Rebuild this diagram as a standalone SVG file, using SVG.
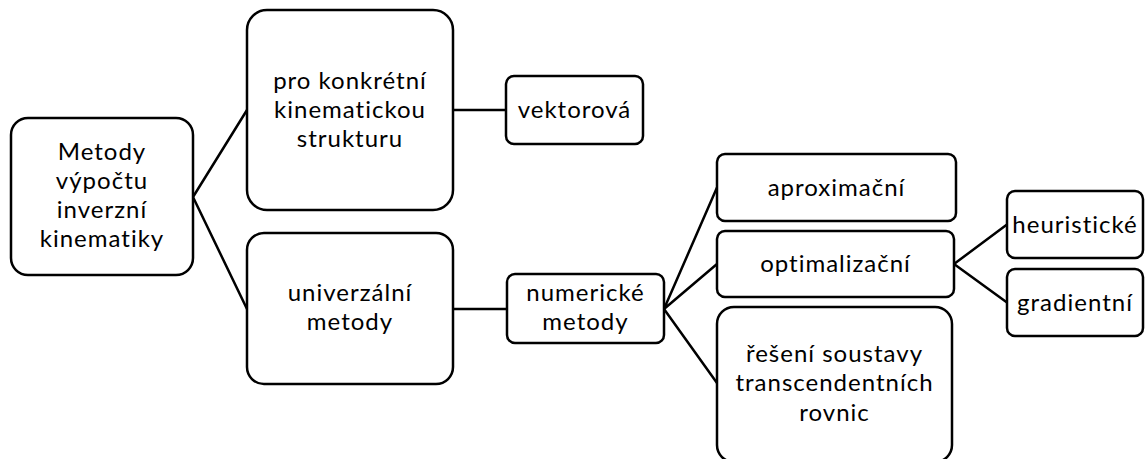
<svg xmlns="http://www.w3.org/2000/svg" width="1145" height="459" viewBox="0 0 1145 459">
<style>
.box{fill:#fff;stroke:#000;stroke-width:2.5}
.con{fill:none;stroke:#000;stroke-width:2.5}
text{font-family:Lato,"Open Sans",sans-serif;font-size:24px;letter-spacing:1px;fill:#000;text-anchor:middle}
</style>
<rect width="1145" height="459" fill="#fff"/>
<g id="connectors">
<path class="con" d="M193 197 L247 110 M193 197 L247 309"/>
<path class="con" d="M453 110 L506 110"/>
<path class="con" d="M453 309 L507 309"/>
<path class="con" d="M664 309 L717 187.5 M664 309 L717 264 M664 309 L717 383"/>
<path class="con" d="M954 264 L1007 224.5 M954 264 L1007 302.5"/>
</g>
<g id="root">
<rect class="box" x="11" y="118" width="182" height="157" rx="17"/>
<text x="102" y="160">Metody</text>
<text x="102" y="189">výpočtu</text>
<text x="102" y="218">inverzní</text>
<text x="102" y="247">kinematiky</text>
</g>
<g id="konkretni">
<rect class="box" x="247" y="10" width="206" height="200" rx="20"/>
<text x="350" y="89">pro konkrétní</text>
<text x="350" y="118">kinematickou</text>
<text x="350" y="147">strukturu</text>
</g>
<g id="vektorova">
<rect class="box" x="506" y="76" width="137" height="68" rx="8"/>
<text x="574.5" y="118">vektorová</text>
</g>
<g id="univerzalni">
<rect class="box" x="247" y="233" width="206" height="151" rx="17"/>
<text x="350" y="301">univerzální</text>
<text x="350" y="330">metody</text>
</g>
<g id="numericke">
<rect class="box" x="507" y="274" width="157" height="69" rx="8"/>
<text x="585.5" y="301">numerické</text>
<text x="585.5" y="330">metody</text>
</g>
<g id="aproximacni">
<rect class="box" x="717" y="154" width="239" height="67" rx="8"/>
<text x="836.5" y="195.5">aproximační</text>
</g>
<g id="optimalizacni">
<rect class="box" x="717" y="231" width="237" height="66" rx="8"/>
<text x="835.5" y="272">optimalizační</text>
</g>
<g id="reseni">
<rect class="box" x="717" y="307" width="235" height="155" rx="17"/>
<text x="834.5" y="362">řešení soustavy</text>
<text x="834.5" y="391">transcendentních</text>
<text x="834.5" y="421">rovnic</text>
</g>
<g id="heuristicke">
<rect class="box" x="1007" y="191" width="136" height="67" rx="8"/>
<text x="1075" y="232.5">heuristické</text>
</g>
<g id="gradientni">
<rect class="box" x="1007" y="269" width="136" height="67" rx="8"/>
<text x="1075" y="310.5">gradientní</text>
</g>
</svg>
